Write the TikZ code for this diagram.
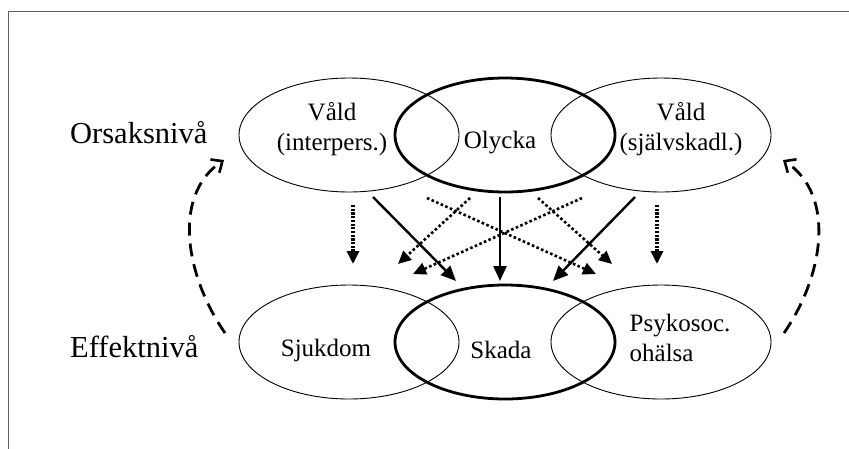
\documentclass[tikz,border=0pt]{standalone}
\usepackage{fontspec}
\setmainfont{Liberation Serif}
\usetikzlibrary{shapes.geometric,arrows.meta}
\begin{document}
\begin{tikzpicture}[x=1pt,y=-1pt,
  ell/.style={ellipse,draw,line width=0.9pt,minimum width=220pt,minimum height=114pt,inner sep=0pt},
  ellthick/.style={ell,line width=2.8pt},
  intext/.style={font=\fontsize{25}{29.5}\selectfont,anchor=base,inner sep=0pt},
  lvl/.style={anchor=base west,inner sep=0pt,font=\fontsize{30.5}{34}\selectfont},
  solidarrow/.style={line width=2.4pt,-{Triangle[length=15pt,width=13pt]}},
  vdot/.style={line width=3.2pt,dash pattern=on 2.2pt off 1.5pt,-{Triangle[length=13pt,width=12pt]}},
  xdot/.style={line width=2.6pt,dash pattern=on 2.6pt off 2.4pt,-{Triangle[length=13pt,width=12pt]}},
  loop/.style={line width=2.8pt,dash pattern=on 13pt off 8pt,-{Straight Barb[length=9pt,width=16pt,line width=2.6pt]}}]
\useasboundingbox (0,0) rectangle (849,448);
\fill[white] (0,0) rectangle (849,448);
\draw[line width=1.6pt,color=black!62] (8.5,460) -- (8.5,11.5) -- (860,11.5);

% top row
\node[ell,label={[intext,xshift=-17pt,yshift=6pt,align=center]center:Våld\\(interpers.)}] (vi) at (349,135) {};
\node[ell,label={[intext,xshift=20pt,yshift=6pt,align=center]center:Våld\\(självskadl.)}] (vs) at (661,135) {};
\node[ellthick,label={[intext,xshift=-5pt,yshift=-8pt]center:Olycka}] (ol) at (505,135) {};
% bottom row
\node[ell,label={[intext,xshift=-23pt,yshift=-8pt]center:Sjukdom}] (sj) at (349,342) {};
\node[ell,label={[intext,xshift=19pt,yshift=4pt,align=left]center:Psykosoc.\\ohälsa}] (ps) at (661,342) {};
\node[ellthick,label={[intext,xshift=-4pt,yshift=-8pt]center:Skada}] (sk) at (505,342) {};

% level labels
\node[lvl] (orsak) at (70,143) {Orsaksnivå};
\node[lvl] (effekt) at (70,357) {Effektnivå};

% arrow end points
\coordinate (d1s) at (353,205); \coordinate (d1e) at (353,264);
\coordinate (d6s) at (657,205); \coordinate (d6e) at (657,264);
\coordinate (s1s) at (373,197); \coordinate (s1e) at (456,281);
\coordinate (s2s) at (500,197); \coordinate (s2e) at (500,281);
\coordinate (s3s) at (635,197); \coordinate (s3e) at (553,281);
\coordinate (x1s) at (427,198); \coordinate (x1e) at (596,274);
\coordinate (x2s) at (470,198); \coordinate (x2e) at (398,264);
\coordinate (x3s) at (582,198); \coordinate (x3e) at (413,274);
\coordinate (x4s) at (538,198); \coordinate (x4e) at (612,264);
\coordinate (ls) at (225,333); \coordinate (le) at (224,160);
\coordinate (rs) at (784,333); \coordinate (re) at (783,160);

\draw[vdot] (d1s) -- (d1e);
\draw[vdot] (d6s) -- (d6e);
\draw[xdot] (x1s) -- (x1e);
\draw[xdot] (x2s) -- (x2e);
\draw[xdot] (x3s) -- (x3e);
\draw[xdot] (x4s) -- (x4e);
\draw[solidarrow] (s1s) -- (s1e);
\draw[solidarrow] (s2s) -- (s2e);
\draw[solidarrow] (s3s) -- (s3e);

\draw[loop] (ls) .. controls (185,275) and (172,195) .. (le);
\draw[loop] (rs) .. controls (824,275) and (836,195) .. (re);
\end{tikzpicture}
\end{document}
